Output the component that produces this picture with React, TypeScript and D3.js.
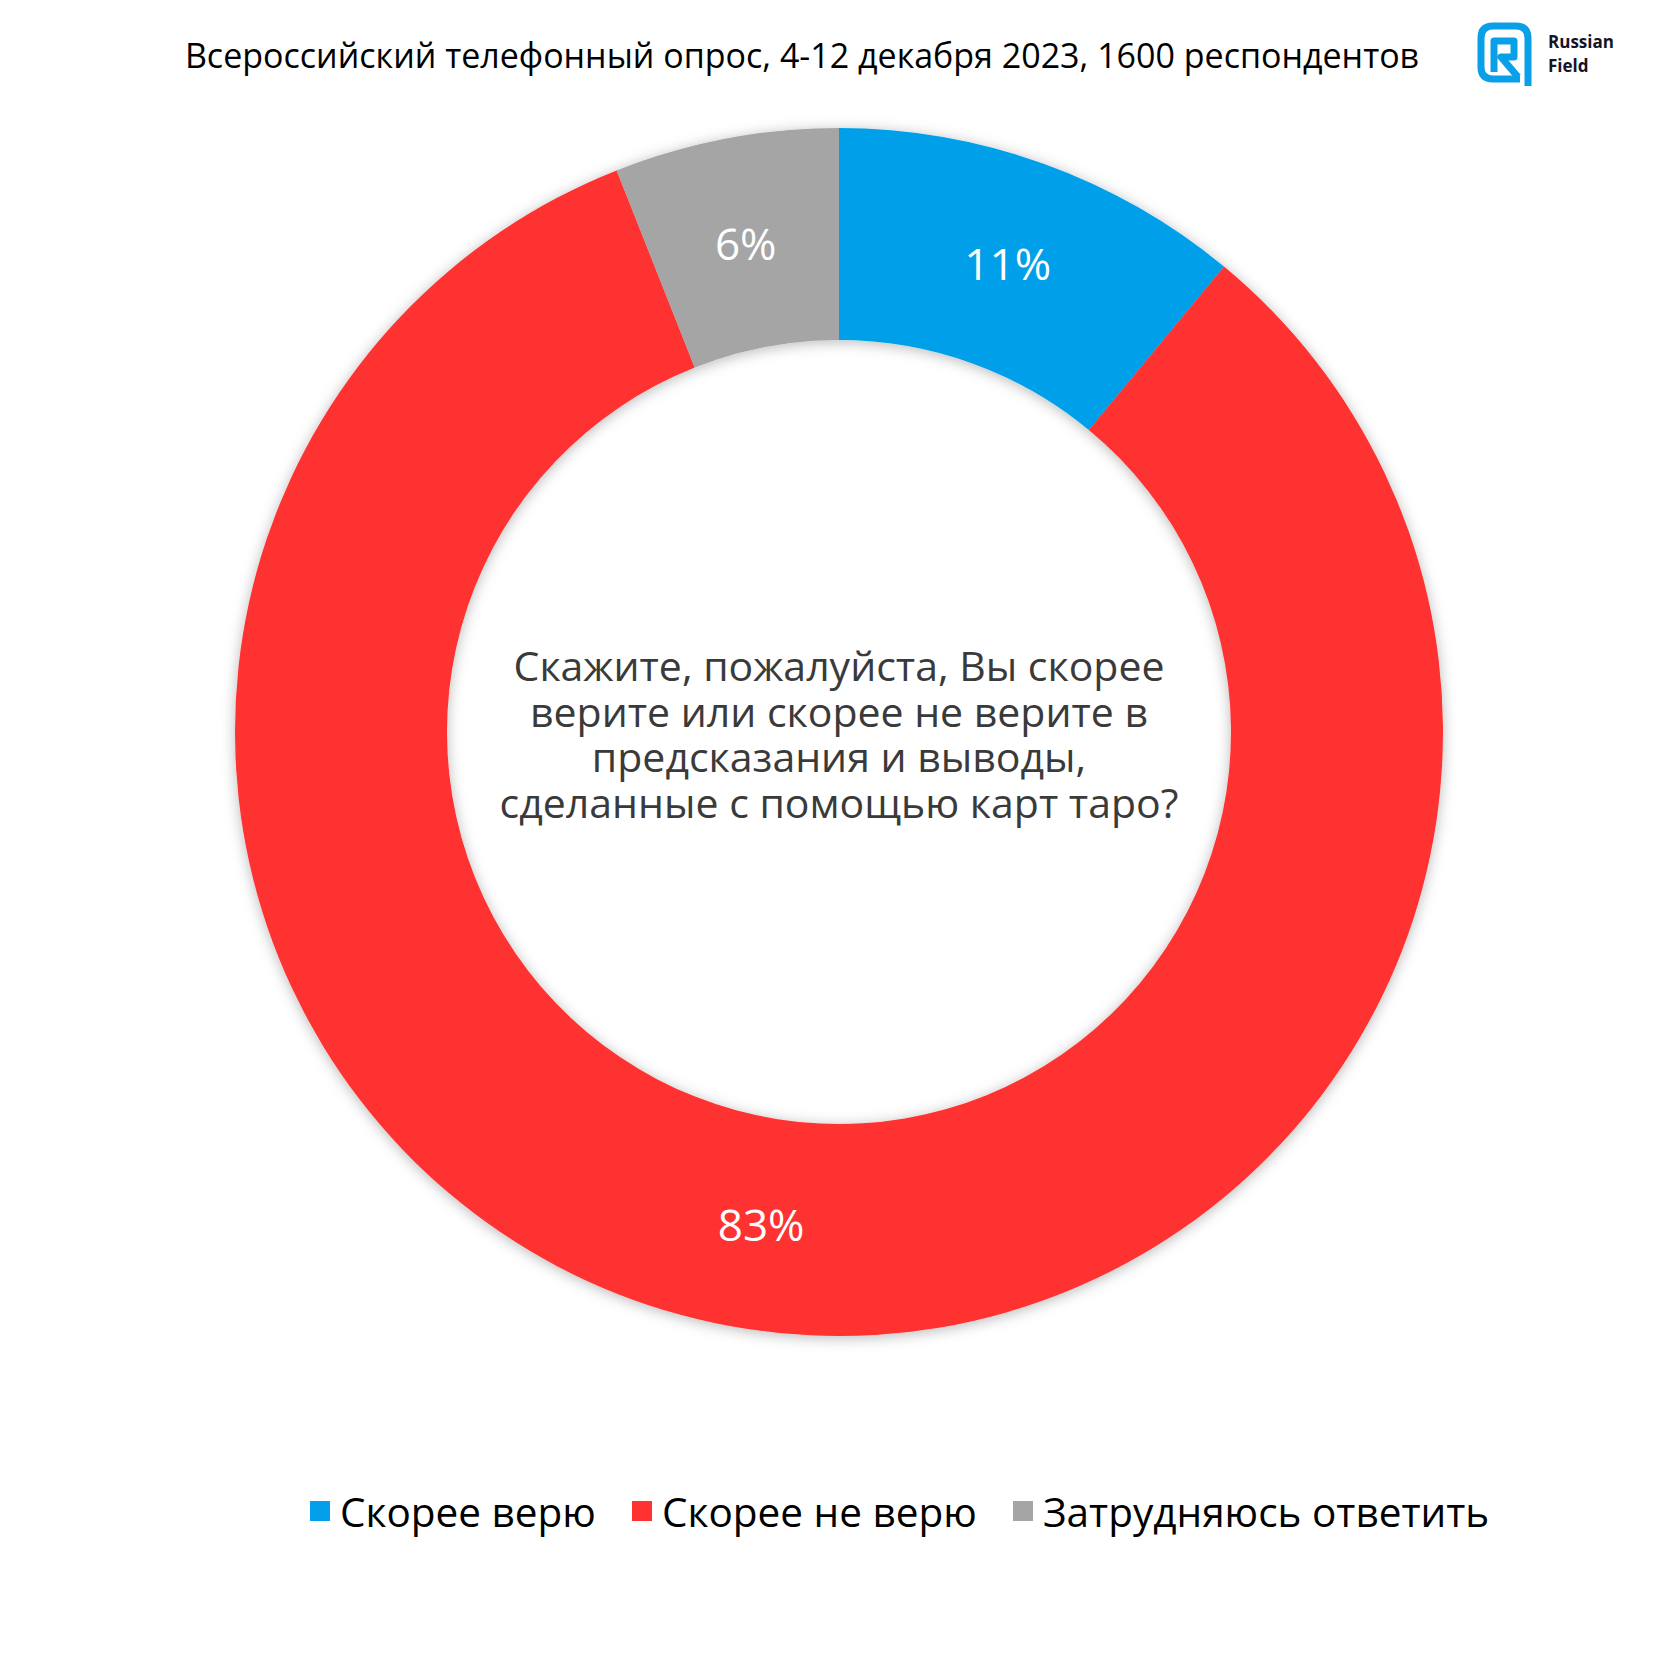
import React from "react";
import * as d3 from "d3";

const categories = ["Скорее верю", "Скорее не верю", "Затрудняюсь ответить"];
const values = [11, 83, 6];
const colors = ["#039FEA", "#FF3131", "#A5A5A5"];
const title = "Всероссийский телефонный опрос, 4-12 декабря 2023, 1600 респондентов";
const question = [
  "Скажите, пожалуйста, Вы скорее",
  "верите или скорее не верите в",
  "предсказания и выводы,",
  "сделанные с помощью карт таро?",
];

const W = 1680;
const H = 1680;
const cx = 839;
const cy = 732;
const R = 604;
const r = 392;
const FONT = "'Open Sans', 'Noto Sans', sans-serif";

export default function App() {
  const pie = d3.pie<number>().sort(null).value((d) => d)(values);
  const arc = d3.arc<d3.PieArcDatum<number>>().innerRadius(r).outerRadius(R);

  const legendX = [310, 632, 1013];

  return (
    <svg width={W} height={H} style={{ display: "block", position: "absolute", left: 0, top: 0 }} xmlns="http://www.w3.org/2000/svg">
      <defs>
        <filter id="sh" x="-20%" y="-20%" width="140%" height="140%">
          <feDropShadow dx="0" dy="2" stdDeviation="7" floodColor="#000" floodOpacity="0.28" />
        </filter>
      </defs>
      <rect width={W} height={H} fill="#fff" />
      <text x={802} y={68} textAnchor="middle" fontFamily={FONT} fontWeight={500} fontSize={34} fill="#000">
        {title}
      </text>

      {/* logo */}
      <g fill="none" stroke="#0AA0E8" strokeWidth={7} strokeLinejoin="round">
        <path d="M1520,79 L1493,79 Q1481,79 1481,67 L1481,38 Q1481,26 1493,26 L1516,26 Q1528,26 1528,38 L1528,86" />
        <path d="M1494,72 L1494,41 L1514,41 L1514,57 L1501,57 L1518,77" />
      </g>
      <text x={1548} y={48} fontFamily={FONT} fontWeight={700} fontSize={17} fill="#141428">Russian</text>
      <text x={1548} y={72} fontFamily={FONT} fontWeight={700} fontSize={17} fill="#141428">Field</text>

      <g transform={`translate(${cx},${cy})`}>
        <g filter="url(#sh)">
          {pie.map((p, i) => (
            <path key={i} d={arc(p) || ""} fill={colors[i]} />
          ))}
        </g>
        {pie.map((p, i) => {
          const [x, y] = arc.centroid(p);
          return (
            <text key={"l" + i} x={x} y={y} textAnchor="middle" dominantBaseline="central" fontFamily={FONT} fontSize={44} fill="#fff">
              {values[i]}%
            </text>
          );
        })}
        <text textAnchor="middle" fontFamily={FONT} fontWeight={500} fontSize={41} fill="#3A3A3A">
          {question.map((line, i) => (
            <tspan key={"q" + i} x={0} y={-51 + i * 45.5}>
              {line}
            </tspan>
          ))}
        </text>
      </g>

      {categories.map((c, i) => (
        <g key={"lg" + i}>
          <rect x={legendX[i]} y={1501} width={20} height={20} fill={colors[i]} />
          <text x={legendX[i] + 30} y={1511} dominantBaseline="central" fontFamily={FONT} fontSize={40.5} fill="#000">
            {c}
          </text>
        </g>
      ))}
    </svg>
  );
}
